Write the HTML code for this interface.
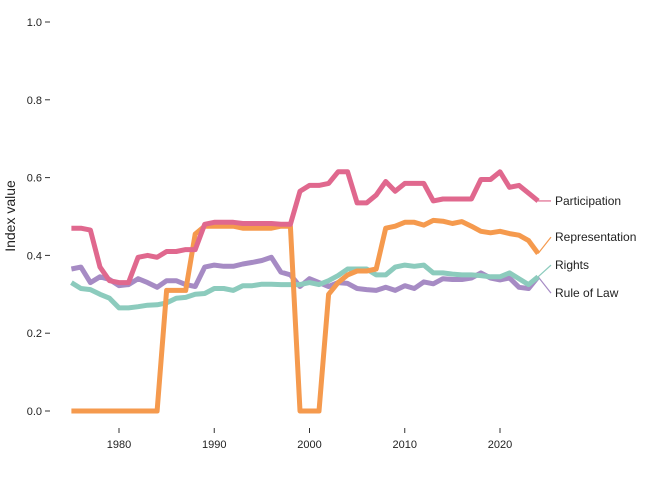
<!DOCTYPE html>
<html><head><meta charset="utf-8"><style>
body{margin:0;background:#fff;font-family:"Liberation Sans",sans-serif}
svg text{font-family:"Liberation Sans",sans-serif}
</style></head><body>
<svg id="chart" width="668" height="472" xmlns="http://www.w3.org/2000/svg"></svg>
<script>
const years=[];for(let y=1975;y<=2024;y++)years.push(y);
const participation=[0.47,0.47,0.465,0.37,0.335,0.33,0.33,0.395,0.40,0.395,0.41,0.41,0.415,0.415,0.48,0.485,0.485,0.485,0.482,0.482,0.482,0.482,0.48,0.48,0.565,0.58,0.58,0.585,0.615,0.615,0.535,0.535,0.555,0.59,0.565,0.585,0.585,0.585,0.54,0.545,0.545,0.545,0.545,0.595,0.595,0.615,0.575,0.58,0.56,0.54];
const representation=[0,0,0,0,0,0,0,0,0,0,0.31,0.31,0.31,0.455,0.475,0.475,0.475,0.475,0.47,0.47,0.47,0.47,0.475,0.475,0,0,0,0.30,0.33,0.35,0.36,0.36,0.365,0.47,0.475,0.485,0.485,0.478,0.49,0.488,0.482,0.487,0.475,0.462,0.458,0.462,0.456,0.452,0.438,0.405];
const rights=[0.33,0.315,0.312,0.30,0.29,0.265,0.265,0.268,0.272,0.273,0.278,0.29,0.292,0.30,0.302,0.315,0.315,0.31,0.322,0.322,0.326,0.326,0.325,0.325,0.325,0.33,0.325,0.335,0.348,0.365,0.365,0.365,0.35,0.35,0.37,0.375,0.372,0.375,0.355,0.355,0.352,0.35,0.35,0.348,0.345,0.345,0.355,0.34,0.325,0.345];
const ruleOfLaw=[0.365,0.37,0.33,0.345,0.338,0.322,0.325,0.34,0.33,0.318,0.335,0.335,0.325,0.32,0.37,0.375,0.372,0.372,0.378,0.382,0.387,0.395,0.357,0.35,0.32,0.34,0.33,0.32,0.33,0.328,0.315,0.312,0.31,0.318,0.31,0.322,0.315,0.332,0.327,0.34,0.338,0.338,0.342,0.355,0.342,0.337,0.342,0.318,0.315,0.345];
const yTicks=[0,0.2,0.4,0.6,0.8,1.0];
const yTickLabels=["0.0","0.2","0.4","0.6","0.8","1.0"];
const xTicks=[1980,1990,2000,2010,2020];
const seriesNames=["Participation","Representation","Rights","Rule of Law"];
const labelValues=[0.54,0.447,0.375,0.303];

const svg=document.getElementById('chart');
const NS='http://www.w3.org/2000/svg';
const X=y=>119+(y-1980)*(500-119)/40;
const Y=v=>411-v*389;
function mk(tag,attrs){const e=document.createElementNS(NS,tag);for(const k in attrs)e.setAttribute(k,attrs[k]);svg.appendChild(e);return e;}

yTicks.forEach((v,i)=>{
  const t=mk('line',{x1:45,x2:50,y1:Y(v),y2:Y(v),stroke:'#333','stroke-width':1});
  
  
  const l=mk('text',{x:42,y:Y(v)+4,'text-anchor':'end','font-size':11,fill:'#222'});
  l.textContent=yTickLabels[i];
  
  
});
xTicks.forEach(v=>{
  const t=mk('line',{x1:X(v),x2:X(v),y1:428,y2:433,stroke:'#333','stroke-width':1});
  
  
  const l=mk('text',{x:X(v),y:448,'text-anchor':'middle','font-size':11,fill:'#222'});
  l.textContent=v;
  
  
});
const yt=mk('text',{x:15,y:216,'text-anchor':'middle','font-size':14,fill:'#222',transform:'rotate(-90 15 216)'});
yt.textContent='Index value';



const series=[ruleOfLaw,rights,representation,participation];
const colors=['#a68bc4','#8ccbbd','#f59a4e','#e0688e'];
const order=[3,2,1,0];
series.forEach((s,i)=>{
  const d=s.map((v,j)=>(j?'L':'M')+X(years[j]).toFixed(1)+','+Y(v).toFixed(1)).join(' ');
  const p=mk('path',{d:d,fill:'none',stroke:colors[i],'stroke-width':5,'stroke-linejoin':'round'});
  
  
  const ni=order[i];
  const ex=X(years[years.length-1]),ey=Y(s[s.length-1]);
  const c=mk('line',{x1:ex,y1:ey,x2:551,y2:Y(labelValues[ni]),stroke:colors[i],'stroke-width':1.2});
  
  
  const t=mk('text',{x:555,y:Y(labelValues[ni])+4,'font-size':12,fill:'#222'});
  t.textContent=seriesNames[ni];
  
  
});
</script>
</body></html>
